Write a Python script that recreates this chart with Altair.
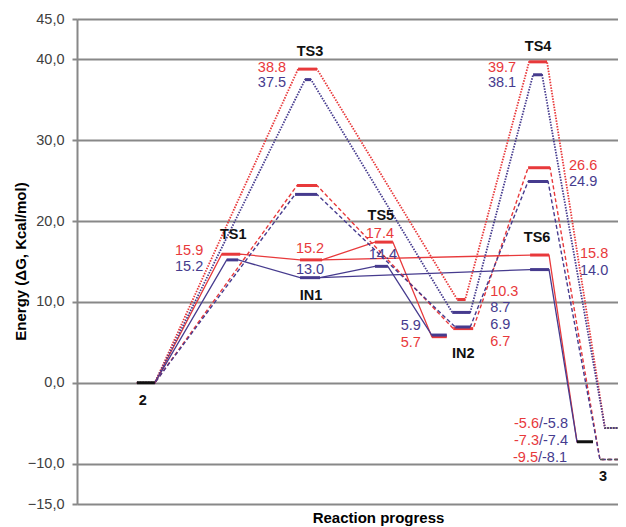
import altair as alt
import pandas as pd

RED = "#e8393b"
BLUE = "#463b8e"
BLACK = "#111111"
GREY = "#555555"
FONT = "Liberation Sans"

# ---- stationary points: key, start / end along reaction coordinate, energy ----
level_keys = ["2", "TS1_r", "TS1_b", "IN1_r", "IN1_b", "TS5_r", "TS5_b", "IN2s_r", "IN2s_b",
              "TS6_r", "TS6_b", "P3_s",
              "D1_r", "D1_b", "IN2d_r", "IN2d_b", "TS4d_r", "TS4d_b", "P3_d",
              "TS3_r", "TS3_b", "IN2o_r", "IN2o_b", "TS4_r", "TS4_b", "P3_o"]
level_x0 = [1.20, 2.90, 3.00, 4.47, 4.47, 5.97, 5.97, 7.11, 7.11,
            9.08, 9.08, 10.02,
            4.41, 4.37, 7.54, 7.58, 9.04, 9.04, 10.48,
            4.43, 4.57, 7.62, 7.52, 9.06, 9.14, 10.58]
level_x1 = [1.56, 3.27, 3.23, 4.91, 4.87, 6.33, 6.23, 7.41, 7.41,
            9.46, 9.46, 10.34,
            4.81, 4.81, 7.94, 7.88, 9.48, 9.44, 10.84,
            4.81, 4.69, 7.78, 7.88, 9.42, 9.32, 10.84]
level_energy = [0.0, 15.9, 15.2, 15.2, 13.0, 17.4, 14.4, 5.7, 5.9,
                15.8, 14.0, -7.3,
                24.4, 23.3, 6.7, 6.9, 26.6, 24.9, -9.5,
                38.8, 37.5, 10.3, 8.7, 39.7, 38.1, -5.6]
level_colour = [BLACK, RED, BLUE, RED, BLUE, RED, BLUE, RED, BLUE,
                RED, BLUE, BLACK,
                RED, BLUE, RED, BLUE, RED, BLUE, GREY,
                RED, BLUE, RED, BLUE, RED, BLUE, GREY]
level_style = ["bar"] * 18 + ["dash"] + ["bar"] * 6 + ["dot"]

# ---- reaction paths ----
path_names = ["solid_r", "solid_r_branch", "solid_b", "solid_b_branch",
              "dash_r", "dash_b", "dot_r", "dot_b"]
path_colour = [RED, RED, BLUE, BLUE, RED, BLUE, RED, BLUE]
path_style = ["solid", "solid", "solid", "solid", "dash", "dash", "dot", "dot"]
path_levels = [
    ["2", "TS1_r", "IN1_r", "TS5_r", "IN2s_r"],
    ["IN1_r", "TS6_r", "P3_s"],
    ["2", "TS1_b", "IN1_b", "TS5_b", "IN2s_b"],
    ["IN1_b", "TS6_b", "P3_s"],
    ["2", "D1_r", "IN2d_r", "TS4d_r", "P3_d"],
    ["2", "D1_b", "IN2d_b", "TS4d_b", "P3_d"],
    ["2", "TS3_r", "IN2o_r", "TS4_r", "P3_o"],
    ["2", "TS3_b", "IN2o_b", "TS4_b", "P3_o"],
]

# ---- labels ----
label_text = ["2", "3", "TS1", "TS3", "TS4", "TS5", "TS6", "IN1", "IN2",
              "15.9", "15.2", "15.2", "13.0", "17.4", "14.4", "5.9", "5.7",
              "10.3", "8.7", "6.9", "6.7", "38.8", "37.5", "39.7", "38.1",
              "26.6", "24.9", "15.8", "14.0",
              "/-5.8", "/-7.4", "/-8.1", "-5.6", "-7.3", "-9.5"]
label_x = [1.32, 10.54, 3.13, 4.67, 9.24, 6.09, 9.22, 4.69, 7.74,
           2.53, 2.53, 4.67, 4.67, 6.07, 6.13, 6.89, 6.89,
           8.28, 8.28, 8.28, 8.28, 4.19, 4.19, 8.80, 8.80,
           9.86, 9.86, 10.08, 10.08,
           9.84, 9.84, 9.82, 9.84, 9.84, 9.82]
label_y = [-2.25, -11.65, 18.3, 40.9, 41.5, 20.6, 17.9, 10.7, 3.6,
           16.3, 14.3, 16.6, 14.0, 18.4, 15.8, 7.0, 4.9,
           11.2, 9.2, 7.1, 5.0, 39.0, 37.1, 39.0, 37.1,
           26.8, 24.8, 15.9, 13.8,
           -5.1, -7.2, -9.3, -5.1, -7.2, -9.3]
label_colour = [BLACK] * 9 + [RED, BLUE, RED, BLUE, RED, BLUE, BLUE, RED,
                              RED, BLUE, BLUE, RED, RED, BLUE, RED, BLUE,
                              RED, BLUE, RED, BLUE,
                              BLUE, BLUE, BLUE, RED, RED, RED]
label_kind = ["name"] * 9 + ["right", "right", "center", "center", "center", "center", "right", "right",
                             "left", "left", "left", "left", "right", "right", "right", "right",
                             "left", "left", "left", "left",
                             "right", "right", "right", "shifted", "shifted", "shifted"]

# ---- tables ----
lv = pd.DataFrame({"key": level_keys, "x0": level_x0, "x1": level_x1,
                   "energy": level_energy, "colour": level_colour, "style": level_style})
lookup = lv.set_index("key")

rows = []
for name, col, sty, keys in zip(path_names, path_colour, path_style, path_levels):
    i = 0
    for k in keys:
        r = lookup.loc[k]
        for xx in (r["x0"], r["x1"]):
            rows.append({"path": name, "colour": col, "style": sty, "x": xx,
                         "energy": r["energy"], "order": i})
            i += 1
lines = pd.DataFrame(rows)

labels = pd.DataFrame({"text": label_text, "x": label_x, "energy": label_y,
                       "colour": label_colour, "kind": label_kind})

PLOT_W = 541
xscale = alt.Scale(domain=[0, PLOT_W / 49.9], nice=False, zero=False)
yscale = alt.Scale(domain=[-15, 45], nice=False, zero=False)

x_axis = alt.Axis(title="Reaction progress", labels=False, ticks=False, domain=False, grid=False,
                  titleFont=FONT, titleFontSize=15, titleFontWeight="bold", titleColor="#000",
                  titleX=301, titleY=6, titleBaseline="top", titleAlign="center")
y_axis = alt.Axis(title="Energy (ΔG, Kcal/mol)", values=[-15, -10, 0, 10, 20, 30, 40, 45],
                  labelExpr="replace(format(datum.value, '.1f'), '.', ',')",
                  grid=True, gridColor="#888888", gridWidth=1.8,
                  domainColor="#888888", domainWidth=2, tickColor="#888888", tickWidth=2, tickSize=5,
                  labelFont=FONT, labelFontSize=14.5, labelColor="#404040", labelPadding=8,
                  titleFont=FONT, titleFontSize=15, titleFontWeight="bold", titleColor="#000",
                  titleX=-57, titleY=242, titleAngle=270, titleAlign="center", titleBaseline="middle")

X = alt.X("x:Q", scale=xscale, axis=x_axis)
Y = alt.Y("energy:Q", scale=yscale, axis=y_axis)
C = alt.Color("colour:N", scale=None)


def line_layer(style, dash, width):
    m = alt.Chart(lines).transform_filter(alt.datum.style == style)
    kw = {"strokeWidth": width}
    if dash:
        kw["strokeDash"] = dash
    return m.mark_line(**kw).encode(x=X, y=Y, color=C, detail="path:N", order="order:Q")


solid = line_layer("solid", None, 1.3)
dashed = line_layer("dash", [4, 2.5], 1.4)
dotted = line_layer("dot", [1.5, 1.3], 1.8)

bars = alt.Chart(lv).transform_filter(alt.datum.style == "bar").mark_rule(strokeWidth=3).encode(
    x=alt.X("x0:Q", scale=xscale, axis=x_axis), x2="x1:Q", y=Y, color=C)
end_dash = alt.Chart(lv).transform_filter(alt.datum.style == "dash").mark_rule(
    strokeWidth=1.6, strokeDash=[4, 3]).encode(
    x=alt.X("x0:Q", scale=xscale, axis=x_axis), x2="x1:Q", y=Y, color=C)
end_dot = alt.Chart(lv).transform_filter(alt.datum.style == "dot").mark_rule(
    strokeWidth=1.6, strokeDash=[1.5, 1.5]).encode(
    x=alt.X("x0:Q", scale=xscale, axis=x_axis), x2="x1:Q", y=Y, color=C)


def text_layer(kind, align, bold=False, dx=0):
    return alt.Chart(labels).transform_filter(alt.datum.kind == kind).mark_text(
        align=align, baseline="middle", font=FONT, fontSize=14.5,
        fontWeight="bold" if bold else "normal", dx=dx).encode(
        x=X, y=Y, color=C, text="text:N")


names = text_layer("name", "center", bold=True)
t_c = text_layer("center", "center")
t_l = text_layer("left", "left")
t_r = text_layer("right", "right")
t_s = text_layer("shifted", "right", dx=-29)

chart = alt.layer(solid, dashed, dotted, bars, end_dash, end_dot,
                  names, t_c, t_l, t_r, t_s).properties(
    width=PLOT_W, height=485,
    padding={"left": 69, "top": 11, "right": 0, "bottom": 24},
    autosize=alt.AutoSizeParams(type="none"),
).configure_view(stroke=None).configure(background="white")

chart.save("out.html", embed_options={"renderer": "svg", "actions": False})
